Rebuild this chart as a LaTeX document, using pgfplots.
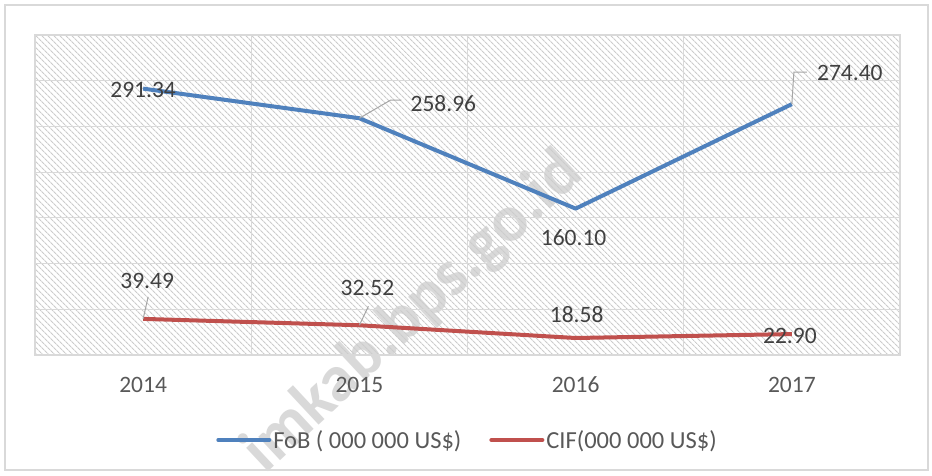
\documentclass[border=0pt]{standalone}
\usepackage{fontspec}
\setmainfont{Carlito}
\usepackage{pgfplots}
\pgfplotsset{compat=1.18}
\usetikzlibrary{patterns.meta}

\definecolor{fobblue}{HTML}{4F81BD}
\definecolor{cifred}{HTML}{C0504D}
\definecolor{gridgray}{HTML}{D9D9D9}
\definecolor{hatchgray}{HTML}{CCCCCC}
\definecolor{labelgray}{HTML}{595959}
\definecolor{valgray}{HTML}{404040}
\definecolor{leadgray}{HTML}{A6A6A6}

\begin{document}
\begin{tikzpicture}[x=1pt,y=1pt]
\useasboundingbox (0,0) rectangle (932,476);
\fill[white] (0,0) rectangle (932,476);
\draw[gridgray, line width=1.5pt] (5,6) rectangle (928,471);
\node[rotate=43, text=black!15, font=\bfseries\fontsize{66}{70}\selectfont] at (413,163) {imkab.bps.go.id};
\begin{axis}[
  at={(35pt,121pt)}, anchor=south west,
  width=865pt, height=320pt, scale only axis,
  clip=false,
  xmin=-0.5, xmax=3.5, ymin=0, ymax=350,
  xtick={0,1,2,3}, xticklabels={2014,2015,2016,2017},
  ytick={0,50,...,350}, yticklabels={},
  ymajorgrids,
  minor xtick={-0.5,0.5,1.5,2.5,3.5}, xminorgrids,
  major tick length=0pt, minor tick length=0pt,
  axis line style={draw=gridgray, line width=1.2pt},
  grid style={draw=gridgray, line width=1.2pt},
  minor grid style={draw=gridgray, line width=1.2pt},
  /pgf/number format/assume math mode=true,
  tick label style={font=\fontsize{23.5}{27}\selectfont, text=labelgray},
  xticklabel style={anchor=center, yshift=-30pt},
  axis background/.style={pattern={Lines[angle=-45,distance=4pt,line width=1.2pt]}, pattern color=hatchgray},
  legend style={at={(0.5,-0.2656)}, anchor=center, draw=none, fill=none,
    font=\fontsize{24.5}{28}\selectfont, text=labelgray,
    /tikz/every even column/.append style={column sep=26pt}},
  legend columns=2,
  legend cell align=left,
  legend image code/.code={\draw[#1, line cap=round] (0pt,0pt) -- (51pt,0pt);},
]
\addplot[fobblue, line width=4pt, line join=round] coordinates {(0,291.34) (1,258.96) (2,160.10) (3,274.40)};
\addlegendentry{FoB ( 000 000 US\$)}
\addplot[cifred, line width=4pt, line join=round] coordinates {(0,39.49) (1,32.52) (2,18.58) (3,22.90)};
\addlegendentry{CIF(000 000 US\$)}

\tikzset{lbl/.style={font=\fontsize{23.5}{27}\selectfont, text=valgray, inner sep=0pt, anchor=center}}
% leader lines
\draw[leadgray, line width=1pt] (axis cs:1,258.96) -- ++(31pt,18pt) -- ++(11pt,0pt);
\draw[leadgray, line width=1pt] (axis cs:3,274.40) -- ++(2pt,32pt) -- ++(13pt,0pt);
\draw[leadgray, line width=1pt] (axis cs:0,39.49) -- ++(5pt,22pt);
\draw[leadgray, line width=1pt] (axis cs:1,32.52) -- ++(9pt,19pt);
% value labels
\node[lbl, xshift=0pt, yshift=-1pt] at (axis cs:0,291.34) {291.34};
\node[lbl, xshift=84pt, yshift=15pt] at (axis cs:1,258.96) {258.96};
\node[lbl, xshift=-2pt, yshift=-29pt] at (axis cs:2,160.10) {160.10};
\node[lbl, xshift=58pt, yshift=31pt] at (axis cs:3,274.40) {274.40};
\node[lbl, xshift=4pt, yshift=38pt] at (axis cs:0,39.49) {39.49};
\node[lbl, xshift=8pt, yshift=37pt] at (axis cs:1,32.52) {32.52};
\node[lbl, xshift=1pt, yshift=23pt] at (axis cs:2,18.58) {18.58};
\node[lbl, xshift=-2pt, yshift=-2pt] at (axis cs:3,22.90) {22.90};
\end{axis}
\end{tikzpicture}
\end{document}
